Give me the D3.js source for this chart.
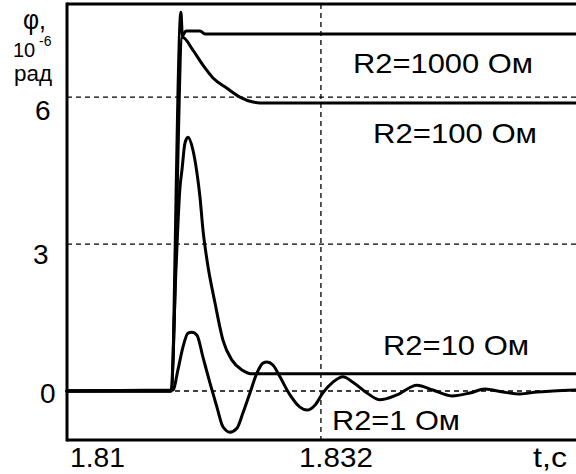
<!DOCTYPE html>
<html>
<head>
<meta charset="utf-8">
<script src="https://cdn.jsdelivr.net/npm/d3@7"></script>
<style>
  html, body { margin: 0; padding: 0; background: #fff; }
  svg { display: block; }
  text { font-family: "Liberation Sans", Arial, sans-serif; fill: #000; }
</style>
</head>
<body>
<svg id="chart" width="576" height="474"></svg>
<script>
// ---- data (t in seconds, phi in 10^-6 rad) ----
const seriesNames = ["R2=1000 Ом", "R2=100 Ом", "R2=10 Ом", "R2=1 Ом"];

const r1000_t = [1.81, 1.81901, 1.81987, 1.82000, 1.82031, 1.82152, 1.82195, 1.8541];
const r1000_v = [0, 0, 7.73, 7.25, 7.35, 7.35, 7.29, 7.29];

const r100_t = [1.81, 1.81901, 1.82000, 1.82091, 1.82178, 1.82265, 1.82386, 1.82498, 1.82611, 1.82672, 1.8541];
const r100_v = [0, 0, 7.22, 6.96, 6.65, 6.39, 6.18, 6.00, 5.90, 5.88, 5.88];

const r10_t = [1.81, 1.81901, 1.81944, 1.81979, 1.81996, 1.82022, 1.82048, 1.82091, 1.82126, 1.82152, 1.82178, 1.82213, 1.82282, 1.82351, 1.82429, 1.82516, 1.82611, 1.8541];
const r10_v = [0, 0, 2.47, 4.16, 4.51, 5.06, 5.18, 4.92, 4.45, 3.96, 3.29, 2.67, 1.80, 1.04, 0.63, 0.43, 0.35, 0.35];

const r1_t = [1.81, 1.81918, 1.81961, 1.82005, 1.82048, 1.82083, 1.82126, 1.82178, 1.82239, 1.82299, 1.82351, 1.82412, 1.82472, 1.82524, 1.82585, 1.82646, 1.82698, 1.82732, 1.82784, 1.82845, 1.82932, 1.83018, 1.83079, 1.83148, 1.83217, 1.83304, 1.83391, 1.83477, 1.83599, 1.83711, 1.83858, 1.84032, 1.84170, 1.84335, 1.84491, 1.84621, 1.84777, 1.84924, 1.85071, 1.85210, 1.85409];
const r1_v = [0, 0.02, 0.43, 0.90, 1.18, 1.20, 1.14, 0.69, 0.16, -0.33, -0.73, -0.84, -0.76, -0.45, -0.04, 0.37, 0.57, 0.59, 0.53, 0.29, -0.08, -0.33, -0.39, -0.29, -0.04, 0.18, 0.29, 0.18, -0.04, -0.18, -0.08, 0.12, 0.02, -0.10, -0.04, 0.04, -0.02, -0.06, -0.02, 0, 0.02];

const xTicks = [1.81, 1.832];
const xTickLabels = ["1.81", "1.832"];
const yTicks = [0, 3, 6];
const yTickLabels = ["0", "3", "6"];

// ---- layout ----
const svg = d3.select("#chart");
const x = d3.scaleLinear().domain([1.81, 1.8541]).range([67, 576]);
const y = d3.scaleLinear().domain([-1, 7.9]).range([440, 4]);

const series = [
  { name: seriesNames[0], t: r1000_t, v: r1000_v },
  { name: seriesNames[1], t: r100_t, v: r100_v },
  { name: seriesNames[2], t: r10_t, v: r10_v },
  { name: seriesNames[3], t: r1_t, v: r1_v }
];

// grid (dashed)
const grid = svg.append("g").attr("stroke", "#000").attr("stroke-width", 1.3).attr("stroke-dasharray", "5,4");
grid.selectAll("line.h").data(yTicks).join("line")
  .attr("class", "h")
  .attr("x1", x.range()[0]).attr("x2", x.range()[1])
  .attr("y1", d => y(d)).attr("y2", d => y(d));
grid.selectAll("line.v").data(xTicks.slice(1)).join("line")
  .attr("class", "v")
  .attr("x1", d => x(d)).attr("x2", d => x(d))
  .attr("y1", y.range()[1]).attr("y2", y.range()[0]);

// curves
const line = d3.line().x(d => x(d[0])).y(d => y(d[1])).curve(d3.curveMonotoneX);
svg.append("g").selectAll("path").data(series).join("path")
  .attr("d", s => line(s.t.map((t, i) => [t, s.v[i]])))
  .attr("fill", "none").attr("stroke", "#000").attr("stroke-width", 3)
  .attr("stroke-linejoin", "round").attr("stroke-linecap", "round");

// frame (top, left, bottom)
const frame = svg.append("g").attr("stroke", "#000").attr("stroke-width", 3).attr("fill", "none");
frame.append("line").attr("x1", x.range()[0]).attr("x2", x.range()[1]).attr("y1", y.range()[1]).attr("y2", y.range()[1]);
frame.append("line").attr("x1", x.range()[0]).attr("x2", x.range()[0]).attr("y1", y.range()[1] - 1.5).attr("y2", y.range()[0] + 1.5);
frame.append("line").attr("x1", x.range()[0]).attr("x2", x.range()[1]).attr("y1", y.range()[0]).attr("y2", y.range()[0]);

// y tick labels
const yLabelBaseline = { 0: 12, 3: 20, 6: 23 };
const yLabelX = { 0: 40, 3: 33, 6: 35 };
svg.append("g").selectAll("text").data(yTicks).join("text")
  .attr("x", d => yLabelX[d])
  .attr("y", d => y(d) + yLabelBaseline[d])
  .attr("font-size", 28)
  .text((d, i) => yTickLabels[i]);

// x tick labels
const xLabelDx = { 0: 3, 1: -22 };
const xLabelLen = { 0: 55, 1: 74 };
svg.append("g").selectAll("text").data(xTicks).join("text")
  .attr("x", (d, i) => x(d) + xLabelDx[i])
  .attr("y", 467)
  .attr("font-size", 28)
  .attr("textLength", (d, i) => xLabelLen[i])
  .attr("lengthAdjust", "spacingAndGlyphs")
  .text((d, i) => xTickLabels[i]);

// axis titles
svg.append("text").attr("x", 533).attr("y", 467).attr("font-size", 28)
  .attr("textLength", 34).attr("lengthAdjust", "spacingAndGlyphs").text("t,c");
svg.append("text").attr("x", 23).attr("y", 29).attr("font-size", 28)
  .attr("textLength", 23).attr("lengthAdjust", "spacingAndGlyphs").text("φ,");
svg.append("text").attr("x", 13).attr("y", 57).attr("font-size", 20).text("10");
svg.append("text").attr("x", 39).attr("y", 46).attr("font-size", 14).text("-6");
svg.append("text").attr("x", 14).attr("y", 81).attr("font-size", 22)
  .attr("textLength", 38).attr("lengthAdjust", "spacingAndGlyphs").text("рад");

// series labels
const seriesLabelPos = [
  { x: 353, y: 73, len: 180 },
  { x: 373, y: 143, len: 164 },
  { x: 383, y: 355, len: 146 },
  { x: 332, y: 430, len: 128 }
];
svg.append("g").selectAll("text").data(series).join("text")
  .attr("x", (d, i) => seriesLabelPos[i].x)
  .attr("y", (d, i) => seriesLabelPos[i].y)
  .attr("font-size", 28)
  .attr("textLength", (d, i) => seriesLabelPos[i].len)
  .attr("lengthAdjust", "spacingAndGlyphs")
  .text(d => d.name);
</script>
</body>
</html>
